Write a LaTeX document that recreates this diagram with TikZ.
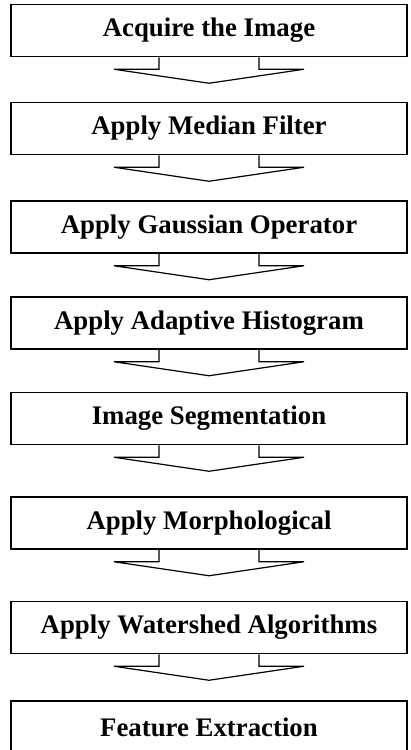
\documentclass[tikz,border=0pt]{standalone}
\usepackage{fontspec}
\setmainfont{Liberation Serif}
\begin{document}
\begin{tikzpicture}[x=1pt,y=1pt,
    stage/.style={draw,line width=1.5pt,minimum width=396pt,minimum height=52pt,inner sep=0pt,
      font=\fontsize{26.8}{30}\selectfont\bfseries},
    flow/.style={line width=1.2pt,line join=miter}]
  \useasboundingbox (0,0) rectangle (410,-750);
  \draw
    (209,-30.5) node[stage] (0){Acquire the Image}
    (209,-128.5) node[stage] (1){Apply Median Filter}
    (209,-227) node[stage] (2){Apply Gaussian Operator}
    (209,-323) node[stage] (3){Apply Adaptive Histogram}
    (209,-418.5) node[stage] (4){Image Segmentation}
    (209,-523) node[stage] (5){Apply Morphological}
    (209,-627.5) node[stage] (6){Apply Watershed Algorithms}
    (209,-727) node[stage] (7){Feature Extraction};
  \begin{scope}[flow]
    \draw ([xshift=-50pt]0.south) -- ++(0,-12) -- ++(-45,0) -- ++(95,-14) -- ++(95,14) -- ++(-45,0) -- ++(0,12);
    \draw ([xshift=-50pt]1.south) -- ++(0,-12) -- ++(-45,0) -- ++(95,-14) -- ++(95,14) -- ++(-45,0) -- ++(0,12);
    \draw ([xshift=-50pt]2.south) -- ++(0,-12) -- ++(-45,0) -- ++(95,-14) -- ++(95,14) -- ++(-45,0) -- ++(0,12);
    \draw ([xshift=-50pt]3.south) -- ++(0,-12) -- ++(-45,0) -- ++(95,-14) -- ++(95,14) -- ++(-45,0) -- ++(0,12);
    \draw ([xshift=-50pt]4.south) -- ++(0,-12) -- ++(-45,0) -- ++(95,-14) -- ++(95,14) -- ++(-45,0) -- ++(0,12);
    \draw ([xshift=-50pt]5.south) -- ++(0,-12) -- ++(-45,0) -- ++(95,-14) -- ++(95,14) -- ++(-45,0) -- ++(0,12);
    \draw ([xshift=-50pt]6.south) -- ++(0,-12) -- ++(-45,0) -- ++(95,-14) -- ++(95,14) -- ++(-45,0) -- ++(0,12);
  \end{scope}
\end{tikzpicture}
\end{document}
